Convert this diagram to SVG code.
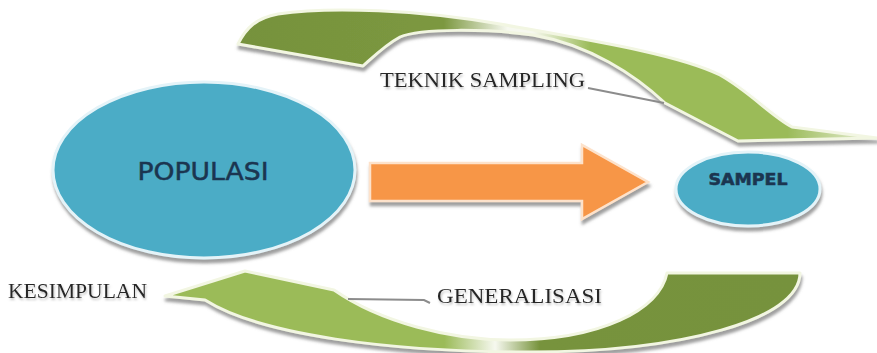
<svg xmlns="http://www.w3.org/2000/svg" width="877" height="353" viewBox="0 0 877 353">
  <defs>
    <!-- soft grey drop shadow used by every shape -->
    <filter id="shadow" x="-10%" y="-20%" width="120%" height="150%">
      <feGaussianBlur in="SourceAlpha" stdDeviation="1.4" result="b"/>
      <feOffset in="b" dx="1" dy="4" result="o"/>
      <feFlood flood-color="#7f7f7f" flood-opacity="0.75"/>
      <feComposite in2="o" operator="in" result="s"/>
      <feMerge>
        <feMergeNode in="s"/>
        <feMergeNode in="SourceGraphic"/>
      </feMerge>
    </filter>
    <filter id="textShadow" x="-5%" y="-30%" width="110%" height="160%">
      <feGaussianBlur in="SourceAlpha" stdDeviation="0.8" result="b"/>
      <feOffset in="b" dx="1" dy="1.5" result="o"/>
      <feFlood flood-color="#999" flood-opacity="0.6"/>
      <feComposite in2="o" operator="in" result="s"/>
      <feMerge>
        <feMergeNode in="s"/>
        <feMergeNode in="SourceGraphic"/>
      </feMerge>
    </filter>
    <!-- top arc: dark olive fading through white to light green -->
    <linearGradient id="gradTop" gradientUnits="userSpaceOnUse" x1="240" y1="0" x2="877" y2="0">
      <stop offset="0" stop-color="#76923c"/>
      <stop offset="0.32" stop-color="#7c9840"/>
      <stop offset="0.42" stop-color="#f6f8ef"/>
      <stop offset="0.46" stop-color="#f6f8ef"/>
      <stop offset="0.55" stop-color="#9bbb59"/>
      <stop offset="0.86" stop-color="#9bbb59"/>
      <stop offset="1" stop-color="#eef3e0"/>
    </linearGradient>
    <!-- bottom arc: light green fading through white to dark olive -->
    <linearGradient id="gradBottom" gradientUnits="userSpaceOnUse" x1="165" y1="0" x2="800" y2="0">
      <stop offset="0" stop-color="#9bbb59"/>
      <stop offset="0.44" stop-color="#9bbb59"/>
      <stop offset="0.52" stop-color="#f6f8ef"/>
      <stop offset="0.59" stop-color="#77933c"/>
      <stop offset="1" stop-color="#76923c"/>
    </linearGradient>
  </defs>
  <style>
    .arc { stroke: #f2f6e2; stroke-width: 3; stroke-linejoin: round; filter: url(#shadow); }
    .node { fill: #4bacc6; stroke: #e4f3f8; stroke-width: 3; filter: url(#shadow); }
    .nodeText { fill: #1b3550; stroke: #1b3550; stroke-width: 0.5; font-family: "DejaVu Sans", "Liberation Sans", sans-serif; }
    .label { fill: #262626; font-family: "Liberation Serif", "Times New Roman", serif; font-size: 22px; filter: url(#textShadow); }
    .leader { fill: none; stroke: #8c8c8c; stroke-width: 2; }
  </style>

  <rect width="877" height="353" fill="#ffffff"/>

  <g id="connectors">
    <!-- curved arrow over the top: TEKNIK SAMPLING -->
    <path id="arc-teknik-sampling" class="arc" fill="url(#gradTop)"
          d="M 238,44 C 246,28 256,18 278,14 C 330,6 420,10 500,24 C 600,42 680,55 720,75 C 750,92 770,115 792,127 L 877,138 L 738,141 L 665,103 C 635,75 590,45 533,35 C 490,29 420,28 400,37 C 385,45 372,58 363,66 Z"/>
    <!-- straight arrow from population to sample -->
    <path id="arrow-main" fill="#f79646" stroke="#fde2cb" stroke-width="2.5" stroke-linejoin="miter" filter="url(#shadow)"
          d="M 370,163 L 582,163 L 582,145 L 648,182 L 582,219 L 582,201 L 370,201 Z"/>
    <!-- curved arrow along the bottom: GENERALISASI -->
    <path id="arc-generalisasi" class="arc" fill="url(#gradBottom)"
          d="M 667,273 L 800,273 C 800,320 680,352 530,352 C 390,352 260,335 205,300 L 165,296 L 245,271 L 334,290 C 380,322 450,340 510,340 C 600,340 660,310 667,273 Z"/>
    <!-- leader strokes beside the labels -->
    <path class="leader" d="M 588,88 L 664,103"/>
    <path class="leader" d="M 348,299 L 424,300 L 430,303"/>
  </g>

  <g id="node-populasi">
    <ellipse class="node" cx="204" cy="170" rx="151" ry="88"/>
    <text class="nodeText" x="203" y="180" font-size="25" text-anchor="middle" textLength="131" lengthAdjust="spacingAndGlyphs">POPULASI</text>
  </g>

  <g id="node-sampel">
    <ellipse class="node" cx="748" cy="189" rx="72" ry="37"/>
    <text class="nodeText" x="748" y="185" font-size="15" font-weight="bold" text-anchor="middle" textLength="79" lengthAdjust="spacingAndGlyphs">SAMPEL</text>
  </g>

  <g id="labels">
    <text class="label" x="380" y="87" textLength="205" lengthAdjust="spacingAndGlyphs">TEKNIK SAMPLING</text>
    <text class="label" x="437" y="303" textLength="165" lengthAdjust="spacingAndGlyphs">GENERALISASI</text>
    <text class="label" x="8" y="298" textLength="139" lengthAdjust="spacingAndGlyphs">KESIMPULAN</text>
  </g>
</svg>
